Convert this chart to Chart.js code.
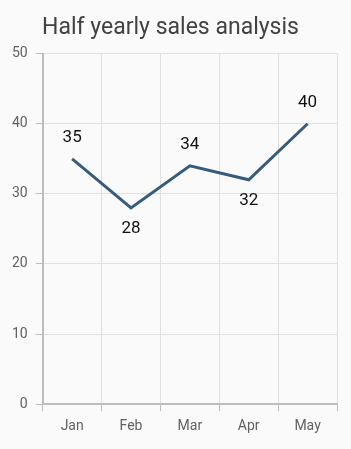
<!DOCTYPE html>
<html>
<head>
<meta charset="utf-8">
<script src="https://cdn.jsdelivr.net/npm/chart.js@4"></script>
<style>
  html, body { margin: 0; padding: 0; background: #fafafa; }
  #wrap { width: 351px; height: 449px; }
</style>
</head>
<body>
<div id="wrap"><canvas id="sales"></canvas></div>
<script>
const months = ['Jan', 'Feb', 'Mar', 'Apr', 'May'];
const sales = [35, 28, 34, 32, 40];
const labelBelow = [false, true, false, true, false];
const yTicks = [0, 10, 20, 30, 40, 50];

// draws the value next to each point
const valueLabels = {
    id: 'valueLabels',
    afterDatasetsDraw(chart) {
        const ctx = chart.ctx;
        const meta = chart.getDatasetMeta(0);
        ctx.save();
        ctx.font = '17px Roboto';
        ctx.fillStyle = '#111';
        ctx.textAlign = 'center';
        ctx.textBaseline = 'middle';
        meta.data.forEach((pt, i) => {
            const dy = labelBelow[i] ? 21 : -21;
            ctx.fillText(String(sales[i]), pt.x, pt.y + dy);
        });
        ctx.restore();
    }
};

const ctx = document.getElementById('sales').getContext('2d');
const salesChart = new Chart(ctx, {
    type: 'line',
    data: {
        labels: months,
        datasets: [{
            data: sales,
            borderColor: '#365b7b',
            borderWidth: 3,
            pointRadius: 0,
            tension: 0,
            fill: false,
        }]
    },
    options: {
        responsive: true,
        maintainAspectRatio: false,
        animation: false,
        layout: { padding: { left: 4, right: 14, top: 4, bottom: 7 } },
        plugins: {
            legend: { display: false },
            tooltip: { enabled: false },
            title: {
                display: true,
                text: 'Half yearly sales analysis',
                color: '#424242',
                font: { family: 'Roboto', size: 23, weight: 'normal' },
                padding: { top: 10, bottom: 12 },
            },
        },
        scales: {
            x: {
                offset: true,
                grid: { offset: true, color: '#e0e0e0', lineWidth: 1, tickLength: 7, tickColor: '#bdbdbd' },
                border: { color: '#bdbdbd', width: 2 },
                ticks: { color: '#616161', font: { family: 'Roboto', size: 14 }, padding: 7 },
            },
            y: {
                min: 0,
                max: 50,
                afterBuildTicks: (axis) => { axis.ticks = yTicks.map(v => ({ value: v })); },
                grid: { color: '#e0e0e0', lineWidth: 1, tickLength: 7, tickColor: '#bdbdbd' },
                border: { color: '#bdbdbd', width: 2 },
                ticks: { color: '#616161', font: { family: 'Roboto', size: 14 }, padding: 8 },
            },
        },
    },
    plugins: [valueLabels],
});
</script>
</body>
</html>
